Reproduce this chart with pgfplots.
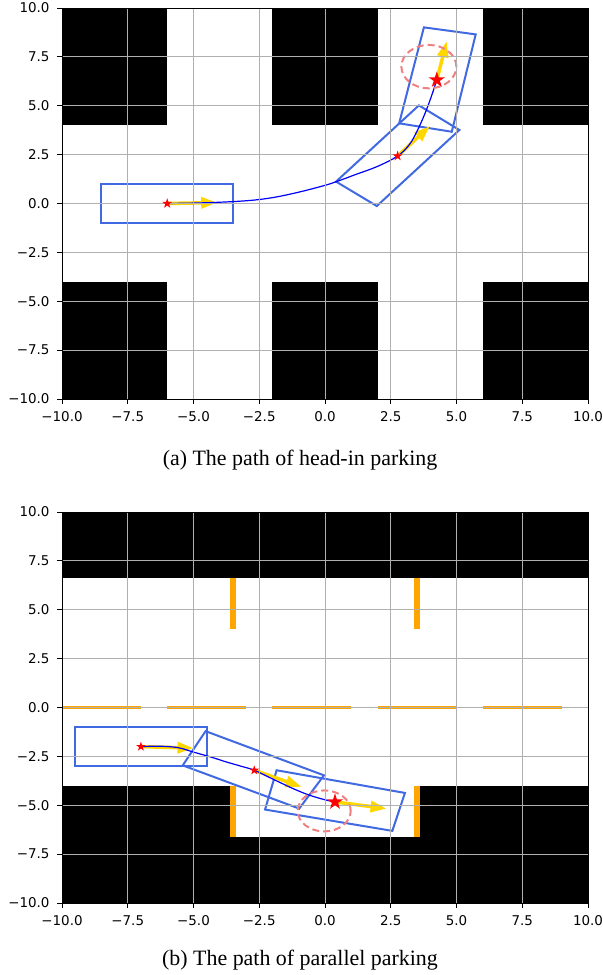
\documentclass[border=0pt]{standalone}
\usepackage{fontspec}
\setmainfont{Liberation Serif}
\newfontfamily\dejavu{DejaVu Sans}
\usepackage{pgfplots}
\pgfplotsset{compat=1.18}
\usetikzlibrary{arrows.meta}
\definecolor{royal}{RGB}{65,105,225}
\definecolor{goldc}{RGB}{255,215,0}
\definecolor{orangec}{RGB}{255,165,0}
\definecolor{gridc}{RGB}{176,176,176}
\definecolor{lred}{RGB}{240,128,128}

\pgfdeclareplotmark{fstar}{%
\pgfpathmoveto{\pgfpointpolar{90}{\pgfplotmarksize}}%
\pgfpathlineto{\pgfpointpolar{126}{0.382\pgfplotmarksize}}%
\pgfpathlineto{\pgfpointpolar{162}{\pgfplotmarksize}}%
\pgfpathlineto{\pgfpointpolar{198}{0.382\pgfplotmarksize}}%
\pgfpathlineto{\pgfpointpolar{234}{\pgfplotmarksize}}%
\pgfpathlineto{\pgfpointpolar{270}{0.382\pgfplotmarksize}}%
\pgfpathlineto{\pgfpointpolar{306}{\pgfplotmarksize}}%
\pgfpathlineto{\pgfpointpolar{342}{0.382\pgfplotmarksize}}%
\pgfpathlineto{\pgfpointpolar{18}{\pgfplotmarksize}}%
\pgfpathlineto{\pgfpointpolar{54}{0.382\pgfplotmarksize}}%
\pgfpathclose\pgfusepathqfill}

\pgfplotsset{myax/.style={
  scale only axis, width=526bp, height=391bp,
  xmin=-10, xmax=10, ymin=-10, ymax=10,
  xtick={-10,-7.5,-5,-2.5,0,2.5,5,7.5,10},
  ytick={-10,-7.5,-5,-2.5,0,2.5,5,7.5,10},
  xticklabels={−10.0,−7.5,−5.0,−2.5,0.0,2.5,5.0,7.5,10.0},
  yticklabels={−10.0,−7.5,−5.0,−2.5,0.0,2.5,5.0,7.5,10.0},
  grid=major, grid style={gridc, line width=1bp},
  axis on top, tick align=outside, xtick pos=bottom, ytick pos=left,
  major tick length=5bp, tick style={black, line width=1bp},
  axis line style={black, line width=1bp},
  tick label style={font=\dejavu\fontsize{13.5}{15}\selectfont},
  xticklabel style={yshift=-4bp},
  yticklabel style={xshift=-4bp},
  clip=true,
},
car/.style={royal, line width=2bp},
arr/.style={goldc, line width=3.5bp, -{Triangle[length=16bp,width=11bp]}},
path/.style={blue, line width=1.2bp, smooth, tension=0.6},
stars/.style={only marks, mark=fstar, red, mark size=#1},
}

\begin{document}
\begin{tikzpicture}
\path[use as bounding box] (0,0) rectangle (603bp,-975bp);

\begin{axis}[myax, at={(62bp,-399bp)}, anchor=south west]
\addplot[fill=black, draw=none] coordinates {(-10,4) (-6,4) (-6,10) (-10,10)} --cycle;
\addplot[fill=black, draw=none] coordinates {(-2,4) (2,4) (2,10) (-2,10)} --cycle;
\addplot[fill=black, draw=none] coordinates {(6,4) (10,4) (10,10) (6,10)} --cycle;
\addplot[fill=black, draw=none] coordinates {(-10,-10) (-6,-10) (-6,-4) (-10,-4)} --cycle;
\addplot[fill=black, draw=none] coordinates {(-2,-10) (2,-10) (2,-4) (-2,-4)} --cycle;
\addplot[fill=black, draw=none] coordinates {(6,-10) (10,-10) (10,-4) (6,-4)} --cycle;
% cars
\addplot[car] coordinates {(-8.5,-1) (-3.5,-1) (-3.5,1) (-8.5,1)} --cycle;
\addplot[car] coordinates {(0.42,1.12) (1.97,-0.13) (5.11,3.76) (3.57,5.02)} --cycle;
\addplot[car] coordinates {(3.76,9.01) (5.73,8.65) (4.82,3.67) (2.82,4.10)} --cycle;
% heading arrows
\addplot[arr] coordinates {(-6,0) (-4.1,0.05)};
\addplot[arr] coordinates {(2.76,2.43) (3.99,3.96)};
\addplot[arr] coordinates {(4.25,6.32) (4.63,8.3)};
% path
\addplot[path] coordinates {(-6,0) (-4.5,0.04) (-3,0.14) (-2,0.3) (-1,0.58) (0,0.93) (0.5,1.15) (1.2,1.5) (2,1.9) (2.76,2.43) (3.2,3.0) (3.5,3.7) (3.8,4.6) (4.05,5.5) (4.25,6.32)};
% stars
\addplot[stars=5.3bp] coordinates {(-6,0) (2.76,2.43)};
\addplot[stars=8.5bp] coordinates {(4.25,6.32)};
\draw[lred, line width=2bp, dash pattern=on 7bp off 4bp] (axis cs:3.95,7.0) ellipse [x radius=27.5bp, y radius=21.7bp];
\end{axis}

\node[font=\fontsize{22}{24}\selectfont] at (300bp,-460bp) {(a) The path of head-in parking};

\begin{axis}[myax, at={(62bp,-903bp)}, anchor=south west]
\addplot[fill=black, draw=none] coordinates {(-10,6.6) (10,6.6) (10,10) (-10,10)} --cycle;
\addplot[fill=black, draw=none] coordinates {(-10,-10) (-3.5,-10) (-3.5,-4) (-10,-4)} --cycle;
\addplot[fill=black, draw=none] coordinates {(3.5,-10) (10,-10) (10,-4) (3.5,-4)} --cycle;
\addplot[fill=black, draw=none] coordinates {(-3.5,-10) (3.5,-10) (3.5,-6.6) (-3.5,-6.6)} --cycle;
% lane markings
\addplot[orangec, line width=3.5bp] coordinates {(-10,0) (-7,0)};
\addplot[orangec, line width=3.5bp] coordinates {(-6,0) (-3,0)};
\addplot[orangec, line width=3.5bp] coordinates {(-2,0) (1,0)};
\addplot[orangec, line width=3.5bp] coordinates {(2,0) (5,0)};
\addplot[orangec, line width=3.5bp] coordinates {(6,0) (9,0)};
\addplot[orangec, line width=6bp] coordinates {(-3.5,6.6) (-3.5,4)};
\addplot[orangec, line width=6bp] coordinates {(3.5,6.6) (3.5,4)};
\addplot[orangec, line width=6bp] coordinates {(-3.5,-4) (-3.5,-6.6)};
\addplot[orangec, line width=6bp] coordinates {(3.5,-4) (3.5,-6.6)};
% cars
\addplot[car] coordinates {(-9.5,-1) (-4.5,-1) (-4.5,-3) (-9.5,-3)} --cycle;
\addplot[car] coordinates {(-4.54,-1.21) (-5.41,-2.96) (-0.98,-5.17) (-0.04,-3.47)} --cycle;
\addplot[car] coordinates {(-1.84,-3.21) (-2.28,-5.22) (2.56,-6.31) (3.04,-4.37)} --cycle;
% arrows
\addplot[arr] coordinates {(-7,-2) (-5.0,-2.08)};
\addplot[arr] coordinates {(-2.69,-3.21) (-0.89,-4.06)};
\addplot[arr] coordinates {(0.38,-4.83) (2.34,-5.17)};
% path
\addplot[path] coordinates {(-7,-2) (-6.3,-1.98) (-5.6,-2.05) (-5,-2.28) (-4.3,-2.55) (-3.74,-2.79) (-3.2,-3.0) (-2.69,-3.21) (-2,-3.65) (-1.21,-4.15) (-0.6,-4.48) (0,-4.72) (0.38,-4.83)};
\addplot[stars=5bp] coordinates {(-7,-2) (-2.69,-3.21)};
\addplot[stars=8.5bp] coordinates {(0.38,-4.83)};
\draw[lred, line width=2bp, dash pattern=on 7bp off 4bp] (axis cs:-0.03,-5.29) ellipse [x radius=26.5bp, y radius=20.5bp];
\end{axis}

\node[font=\fontsize{22}{24}\selectfont] at (300bp,-960bp) {(b) The path of parallel parking};
\end{tikzpicture}
\end{document}
